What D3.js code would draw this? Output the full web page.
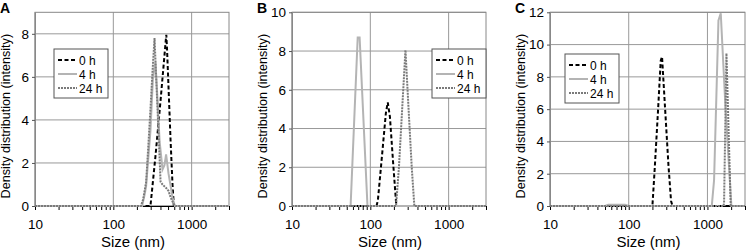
<!DOCTYPE html>
<html>
<head>
<meta charset="utf-8">
<script src="https://cdn.jsdelivr.net/npm/d3@7"></script>
<style>
  body { margin: 0; background: #fff; }
  text { font-family: "Liberation Sans", Arial, sans-serif; fill: #000; }
</style>
</head>
<body>
<script>
// panel letters and series names
var panels = ['A', 'B', 'C'];
var seriesNames = ['0 h', '4 h', '24 h'];
var xTicks = [10, 100, 1000];
var xDomain = [10, 3000];
var yMax = [9, 10, 12];
var yTicksA = [0, 2, 4, 6, 8];
var yTicksB = [0, 2, 4, 6, 8, 10];
var yTicksC = [0, 2, 4, 6, 8, 10, 12];

// size (nm), intensity
var a0h = [[10,0],[298,0],[345,2.3],[401,4.9],[465,7.6],[475,7.95],[485,7.3],[507,5.5],[539,3.0],[570,1.0],[593,0],[3000,0]];
var a4h = [[10,0],[233,0],[250,0.5],[262,0.9],[298,3.5],[320,5.9],[345,6.7],[366,5.0],[390,3.0],[425,1.7],[450,1.9],[472,2.4],[507,1.5],[570,0.4],[610,0],[3000,0]];
var a24h = [[10,0],[225,0],[240,0.3],[262,1.1],[281,2.9],[298,4.5],[316,6.2],[336,7.8],[356,5.6],[378,3.4],[401,1.13],[425,1.0],[472,0.84],[507,0.7],[539,0.4],[588,0.1],[623,0],[3000,0]];

var b0h = [[10,0],[120,0],[125,0.3],[144,3.0],[158,4.8],[167,5.35],[178,4.6],[195,2.3],[213,0.2],[220,0],[3000,0]];
var b4h = [[10,0],[56,0],[69,8.7],[73,8.7],[92,0],[3000,0]];
var b24h = [[10,0],[213,0],[232,2.0],[255,5.0],[281,8.05],[308,5.0],[338,2.0],[365,0],[3000,0]];

var c0h = [[10,0],[200,0],[215,2.5],[235,5.8],[255,9.0],[265,9.25],[290,6.0],[320,2.5],[345,0.3],[360,0],[3000,0]];
var c4h = [[10,0],[50,0],[55,0.08],[90,0.08],[100,0],[1135,0],[1214,1.6],[1380,11.5],[1476,11.94],[1700,6.0],[2015,0],[3000,0]];
var c24h = [[10,0],[1600,0],[1626,0.2],[1743,9.46],[1975,0],[3000,0]];

var panelData = [[a0h, a4h, a24h], [b0h, b4h, b24h], [c0h, c4h, c24h]];
var panelYTicks = [yTicksA, yTicksB, yTicksC];

var styles = [
  {stroke: '#000', width: 2, dash: '4,2.5'},
  {stroke: '#b4b4b4', width: 2, dash: null},
  {stroke: '#7a7a7a', width: 2, dash: '2,1'}
];

var layout = [
  {left: 35, right: 229, legend: [54, 49]},
  {left: 292, right: 486, legend: [432, 49]},
  {left: 550, right: 745, legend: [565, 54]}
];
var plotTop = 12.3, plotBottom = 206;

var svg = d3.select('body').append('svg')
  .attr('width', 746)
  .attr('height', 250);

panels.forEach(function(name, p) {
  var L = layout[p];
  var x = d3.scaleLog().domain(xDomain).range([L.left, L.right]);
  var y = d3.scaleLinear().domain([0, yMax[p]]).range([plotBottom, plotTop]);
  var g = svg.append('g');

  // grid
  g.selectAll('.hg').data(panelYTicks[p]).enter().append('line')
    .attr('x1', L.left).attr('x2', L.right)
    .attr('y1', function(d) { return y(d); }).attr('y2', function(d) { return y(d); })
    .attr('stroke', '#999').attr('stroke-width', 1);
  g.selectAll('.vg').data(xTicks).enter().append('line')
    .attr('x1', function(d) { return x(d); }).attr('x2', function(d) { return x(d); })
    .attr('y1', plotTop).attr('y2', plotBottom)
    .attr('stroke', '#999').attr('stroke-width', 1);
  g.append('rect')
    .attr('x', L.left).attr('y', plotTop)
    .attr('width', L.right - L.left).attr('height', plotBottom - plotTop)
    .attr('fill', 'none').attr('stroke', '#888');

  // x axis with minor ticks
  var minor = [];
  [10, 100, 1000].forEach(function(dec) {
    for (var k = 1; k < 10; k++) { if (dec * k <= 3000) minor.push(dec * k); }
  });
  var xAxis = d3.axisBottom(x).tickValues(minor).tickSizeInner(4).tickSizeOuter(0)
    .tickFormat(function(d) { return xTicks.indexOf(d) >= 0 ? d : ''; });
  var ax = g.append('g').attr('transform', 'translate(0,' + plotBottom + ')').call(xAxis);
  ax.select('.domain').attr('stroke', '#000');
  ax.selectAll('.tick line').attr('stroke', '#000');
  ax.selectAll('text').attr('font-size', 13.5).attr('dy', '1.2em')
    .style('font-family', '"Liberation Sans", Arial, sans-serif');

  var yAxis = d3.axisLeft(y).tickValues(panelYTicks[p]).tickSizeInner(3).tickSizeOuter(0);
  var ay = g.append('g').attr('transform', 'translate(' + L.left + ',0)').call(yAxis);
  ay.select('.domain').attr('stroke', '#888');
  ay.selectAll('.tick line').attr('stroke', '#555');
  ay.selectAll('text').attr('font-size', 13.5).attr('x', -6)
    .style('font-family', '"Liberation Sans", Arial, sans-serif');

  // curves
  var line = d3.line()
    .x(function(d) { return x(d[0]); })
    .y(function(d) { return y(d[1]); });
  panelData[p].forEach(function(s, i) {
    g.append('path').datum(s)
      .attr('d', line)
      .attr('fill', 'none')
      .attr('stroke', styles[i].stroke)
      .attr('stroke-width', styles[i].width)
      .attr('stroke-dasharray', styles[i].dash);
  });

  // titles
  g.append('text')
    .attr('x', (L.left + L.right) / 2 + 1).attr('y', 247)
    .attr('text-anchor', 'middle').attr('font-size', 15)
    .text('Size (nm)');
  g.append('text')
    .attr('transform', 'translate(' + (L.left - 25) + ',' + ((plotTop + plotBottom) / 2 + 7) + ') rotate(-90)')
    .attr('text-anchor', 'middle').attr('font-size', 12.6)
    .text('Density distribution (intensity)');
  g.append('text')
    .attr('x', L.left - 35).attr('y', 13)
    .attr('font-size', 14).attr('font-weight', 'bold')
    .text(name);

  // legend
  var lg = g.append('g').attr('transform', 'translate(' + L.legend[0] + ',' + L.legend[1] + ')');
  lg.append('rect').attr('width', 54).attr('height', 49)
    .attr('fill', '#fff').attr('stroke', '#555');
  seriesNames.forEach(function(n, i) {
    var yy = 11 + i * 14;
    lg.append('line').attr('x1', 4).attr('x2', 23).attr('y1', yy).attr('y2', yy)
      .attr('stroke', styles[i].stroke).attr('stroke-width', styles[i].width)
      .attr('stroke-dasharray', styles[i].dash);
    lg.append('text').attr('x', 25).attr('y', yy + 4.5)
      .attr('font-size', 12).text(n);
  });
});
</script>
</body>
</html>
